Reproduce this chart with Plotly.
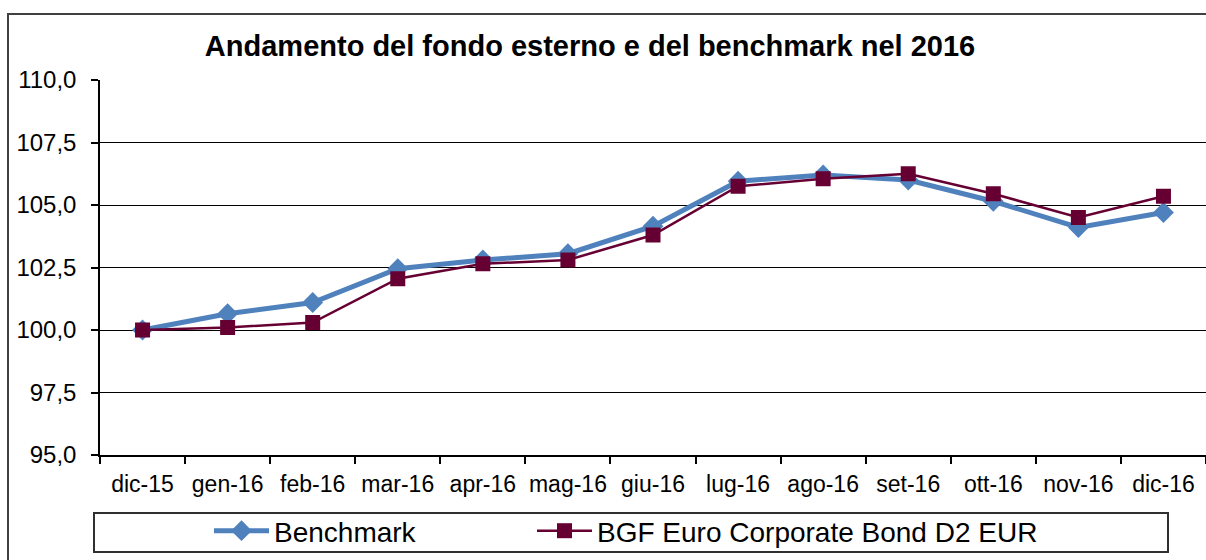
import plotly.graph_objects as go

categories = ["dic-15", "gen-16", "feb-16", "mar-16", "apr-16", "mag-16", "giu-16",
              "lug-16", "ago-16", "set-16", "ott-16", "nov-16", "dic-16"]
benchmark = [100.0, 100.65, 101.1, 102.45, 102.8, 103.05, 104.15,
             105.95, 106.2, 106.0, 105.15, 104.1, 104.7]
bgf = [100.0, 100.1, 100.3, 102.05, 102.65, 102.8, 103.8,
       105.75, 106.05, 106.25, 105.45, 104.5, 105.35]
y_ticks = [95.0, 97.5, 100.0, 102.5, 105.0, 107.5, 110.0]
y_tick_labels = ["95,0", "97,5", "100,0", "102,5", "105,0", "107,5", "110,0"]

W, H = 1206, 560
L, R, T, B = 100, 0, 80, 105
pw, ph = W - L - R, H - T - B

def px(x):
    return (x - L) / pw

def py(y):
    return (H - B - y) / ph

font = "Liberation Sans, Arial, sans-serif"

fig = go.Figure()
fig.add_trace(go.Scatter(
    x=categories, y=benchmark, name="Benchmark", mode="lines+markers",
    line=dict(color="#4F81BD", width=5),
    marker=dict(symbol="diamond", size=16, color="#4F81BD"),
    legend="legend",
))
fig.add_trace(go.Scatter(
    x=categories, y=bgf, name="BGF Euro Corporate Bond D2 EUR", mode="lines+markers",
    line=dict(color="#660033", width=2.5),
    marker=dict(symbol="square", size=15, color="#660033"),
    legend="legend2",
))

legend_common = dict(orientation="h", xanchor="left", y=py(531), yanchor="middle",
                     bgcolor="rgba(0,0,0,0)", borderwidth=0,
                     font=dict(size=28, family=font, color="#000000"),
                     itemwidth=55)

fig.update_layout(
    width=W, height=H,
    margin=dict(l=L, r=R, t=T, b=B, pad=0, autoexpand=False),
    paper_bgcolor="white", plot_bgcolor="white",
    font=dict(family=font, color="#000000", size=24),
    title=dict(text="<b>Andamento del fondo esterno e del benchmark nel 2016</b>",
               x=590 / W, xanchor="center", xref="container",
               y=1 - 46 / H, yanchor="middle", yref="container",
               font=dict(size=29, family=font, color="#000000")),
    showlegend=True,
    legend=dict(x=px(209), **legend_common),
    legend2=dict(x=px(532), **legend_common),
    shapes=[
        # outer chart border
        dict(type="rect", xref="paper", yref="paper",
             x0=px(8), x1=px(1240), y0=py(600), y1=py(14),
             line=dict(color="#404040", width=2), fillcolor="rgba(0,0,0,0)", layer="below"),
        # legend box
        dict(type="rect", xref="paper", yref="paper",
             x0=px(94), x1=px(1168), y0=py(552), y1=py(513),
             line=dict(color="#303030", width=2), fillcolor="rgba(0,0,0,0)", layer="below"),
    ],
)

fig.update_xaxes(
    type="category", tickson="boundaries", ticks="outside", ticklen=7,
    tickcolor="#000000", tickwidth=1.5, tickangle=0, automargin=False,
    showline=True, linecolor="#000000", linewidth=1.5,
    showgrid=False, ticklabelstandoff=8,
    tickfont=dict(size=23, family=font, color="#000000"),
    range=[-0.5, 12.5],
)
fig.update_yaxes(
    range=[95, 110], tickvals=y_ticks, ticktext=y_tick_labels, automargin=False,
    ticks="outside", ticklen=7, tickcolor="#000000", tickwidth=1.5,
    showline=True, linecolor="#000000", linewidth=1.5,
    showgrid=True, gridcolor="#000000", gridwidth=1.2,
    zeroline=False, ticklabelstandoff=10,
    tickfont=dict(size=24, family=font, color="#000000"),
)

fig.write_html("out.html", config={"displayModeBar": False},
               post_script="document.body.style.margin='0';")
